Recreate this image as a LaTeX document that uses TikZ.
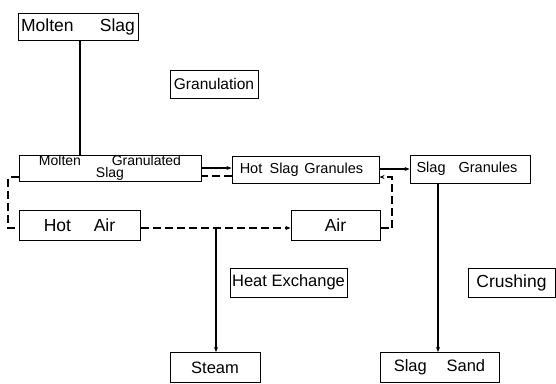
\documentclass[tikz,border=0pt]{standalone}
\usepackage{fontspec}
\setmainfont{Liberation Sans}
\usetikzlibrary{arrows.meta}
\begin{document}
\begin{tikzpicture}[x=1pt,y=-1pt,
  box/.style={draw,line width=1pt,inner sep=0pt,minimum width=#1,align=center},
  solidln/.style={line width=1.8pt},
  dashln/.style={line width=1.4pt,dash pattern=on 8pt off 4pt},
  arr/.style={-{Stealth[length=5pt,width=4pt]}}]
\useasboundingbox (0,0) rectangle (556,383);
\node[box=120pt,minimum height=27pt,font=\fontsize{17.5}{17}\selectfont] (ms) at (78,26.5) {Molten\hspace{1.5em}Slag};
\node[box=88pt,minimum height=28pt,font=\fontsize{15.5}{16}\selectfont] (gran) at (214,84) {Granulation};
\node[box=182pt,minimum height=26pt,font=\fontsize{14}{12.5}\selectfont] (mgs) at (110,168) {Molten\hspace{2.2em}Granulated\hspace{1em}\\Slag};
\node[box=147pt,minimum height=27pt,font=\fontsize{14.5}{15}\selectfont] (hsg) at (305.5,169.5) {Hot\hspace{0.5em}Slag\hspace{0.4em}Granules\hspace{8pt}};
\node[box=120pt,minimum height=28pt,font=\fontsize{14.5}{15}\selectfont] (sg) at (470,169) {Slag\hspace{0.9em}Granules\hspace{6pt}};
\node[box=121pt,minimum height=30pt,font=\fontsize{17.5}{17}\selectfont] (ha) at (79.5,225) {Hot\hspace{1.3em}Air};
\node[box=89pt,minimum height=30pt,font=\fontsize{17.5}{17}\selectfont] (air) at (335.5,225) {Air};
\node[box=117pt,minimum height=29pt,font=\fontsize{16.5}{16}\selectfont] (hx) at (288.5,282.5) {Heat Exchange};
\node[box=87pt,minimum height=29pt,font=\fontsize{17.5}{16}\selectfont] (cr) at (511.5,282.5) {Crushing};
\node[box=90pt,minimum height=30pt,font=\fontsize{16.5}{16}\selectfont] (st) at (215,367.5) {Steam};
\node[box=119pt,minimum height=30pt,font=\fontsize{16.5}{16}\selectfont] (ss) at (439.5,367.5) {Slag\hspace{1.2em}Sand};
% solid flow
\draw[solidln] (ms.south -| 80,0) -- (mgs.north -| 80,0);
\draw[solidln,arr] (mgs.east |- 0,168) -- (hsg.west |- 0,168);
\draw[solidln,arr] (hsg.east |- 0,169) -- (sg.west |- 0,169);
\draw[solidln,arr] (sg.south -| 438,0) -- (ss.north -| 438,0);
% air loop
\coordinate (br) at (216,228);
\draw[dashln] (hsg.west |- 0,176) -- (mgs.east |- 0,176);
\draw[dashln] (mgs.west |- 0,177) -- (8,177) -- (8,228) -- (ha.west |- 0,228);
\draw[dashln,arr] (ha.east |- 0,228) -- (air.west |- 0,228);
\draw[dashln,arr] (air.east |- 0,228) -- (392,228) -- (392,177) -- (hsg.east |- 0,177);
\draw[solidln,arr] (br) -- (st.north -| br);
\end{tikzpicture}
\end{document}
